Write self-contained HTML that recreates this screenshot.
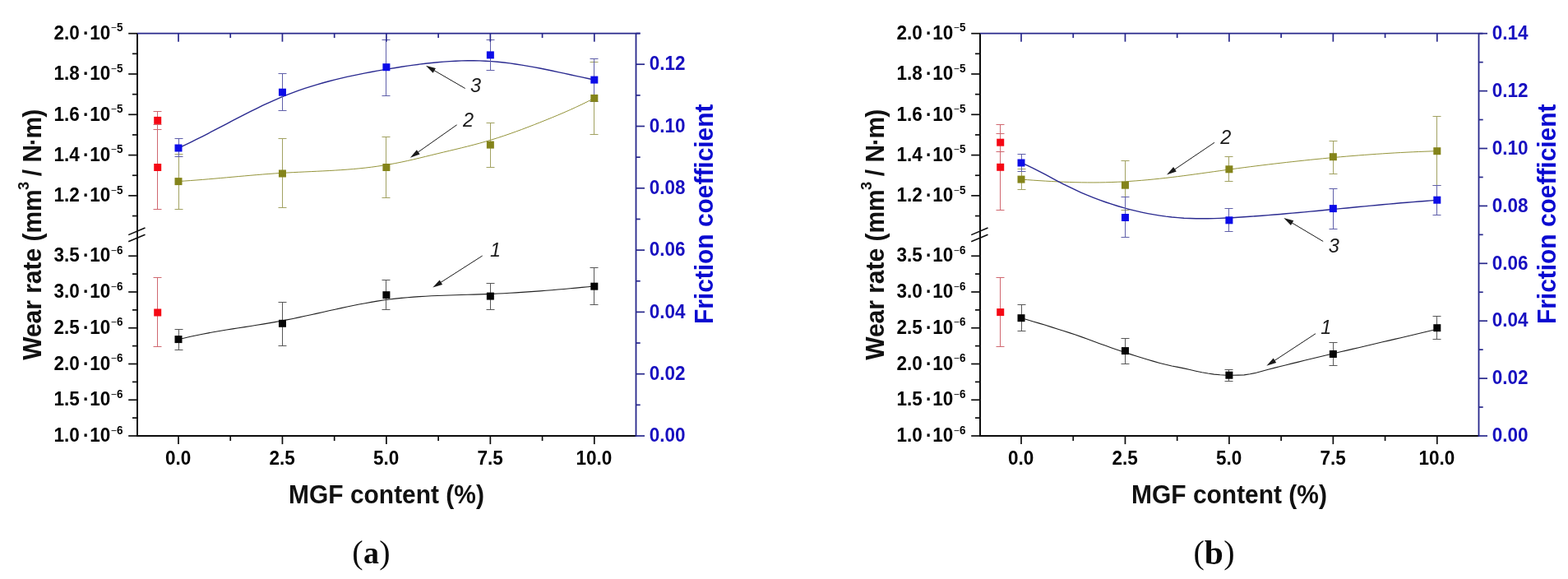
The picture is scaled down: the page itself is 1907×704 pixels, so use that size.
<!DOCTYPE html>
<html lang="en"><head><meta charset="utf-8"><title>Wear rate and friction coefficient vs MGF content</title>
<style>html,body{margin:0;padding:0;background:#fff;}body{width:1907px;height:704px;overflow:hidden;}svg{display:block;}text{white-space:pre;}</style></head><body>
<svg width="1907" height="704" viewBox="0 0 1907 704">
<rect width="1907" height="704" fill="#ffffff"/>
<g>
<path d="M217,220.5 L224.33,220.04 L231.66,219.54 L238.98,218.99 L246.31,218.41 L253.64,217.8 L260.97,217.17 L268.29,216.52 L275.62,215.86 L282.95,215.19 L290.28,214.53 L297.6,213.88 L304.93,213.24 L312.26,212.61 L319.59,212.02 L326.91,211.46 L334.24,210.93 L341.57,210.45 L348.9,210.02 L356.22,209.63 L363.55,209.27 L370.88,208.93 L378.21,208.6 L385.53,208.26 L392.86,207.91 L400.19,207.54 L407.52,207.12 L414.84,206.66 L422.17,206.14 L429.5,205.55 L436.83,204.87 L444.15,204.1 L451.48,203.23 L458.81,202.23 L466.14,201.12 L473.46,199.89 L480.79,198.55 L488.12,197.1 L495.45,195.54 L502.77,193.89 L510.1,192.15 L517.43,190.36 L524.76,188.57 L532.08,186.79 L539.41,185.03 L546.74,183.29 L554.07,181.54 L561.39,179.77 L568.72,177.95 L576.05,176.07 L583.38,174.11 L590.7,172.06 L598.03,169.89 L605.36,167.59 L612.69,165.18 L620.01,162.66 L627.34,160.05 L634.67,157.36 L642,154.59 L649.32,151.75 L656.65,148.86 L663.98,145.93 L671.31,142.95 L678.63,139.91 L685.96,136.79 L693.29,133.57 L700.62,130.24 L707.94,126.78 L715.27,123.18 L722.6,119.41" fill="none" stroke="#94943a" stroke-width="1.0" stroke-linejoin="round"/>
<path d="M217,180 L224.33,176.6 L231.66,173.08 L238.98,169.47 L246.31,165.77 L253.64,162.01 L260.97,158.2 L268.29,154.37 L275.62,150.52 L282.95,146.69 L290.28,142.87 L297.6,139.1 L304.93,135.4 L312.26,131.77 L319.59,128.23 L326.91,124.81 L334.24,121.52 L341.57,118.38 L348.9,115.4 L356.22,112.59 L363.55,109.94 L370.88,107.44 L378.21,105.07 L385.53,102.85 L392.86,100.74 L400.19,98.76 L407.52,96.88 L414.84,95.11 L422.17,93.43 L429.5,91.84 L436.83,90.32 L444.15,88.88 L451.48,87.5 L458.81,86.17 L466.14,84.89 L473.46,83.65 L480.79,82.44 L488.12,81.29 L495.45,80.18 L502.77,79.14 L510.1,78.17 L517.43,77.27 L524.76,76.46 L532.08,75.74 L539.41,75.12 L546.74,74.6 L554.07,74.2 L561.39,73.92 L568.72,73.78 L576.05,73.77 L583.38,73.9 L590.7,74.19 L598.03,74.64 L605.36,75.25 L612.69,76.02 L620.01,76.92 L627.34,77.94 L634.67,79.08 L642,80.32 L649.32,81.64 L656.65,83.05 L663.98,84.51 L671.31,86.03 L678.63,87.58 L685.96,89.16 L693.29,90.75 L700.62,92.35 L707.94,93.93 L715.27,95.48 L722.6,97" fill="none" stroke="#2a2a90" stroke-width="1.4" stroke-linejoin="round"/>
<path d="M217,412.7 L224.33,410.92 L231.66,409.25 L238.98,407.7 L246.31,406.23 L253.64,404.85 L260.97,403.54 L268.29,402.28 L275.62,401.08 L282.95,399.9 L290.28,398.75 L297.6,397.61 L304.93,396.47 L312.26,395.31 L319.59,394.13 L326.91,392.91 L334.24,391.64 L341.57,390.31 L348.9,388.9 L356.22,387.43 L363.55,385.91 L370.88,384.33 L378.21,382.73 L385.53,381.1 L392.86,379.47 L400.19,377.83 L407.52,376.21 L414.84,374.61 L422.17,373.05 L429.5,371.53 L436.83,370.08 L444.15,368.69 L451.48,367.38 L458.81,366.16 L466.14,365.05 L473.46,364.05 L480.79,363.17 L488.12,362.4 L495.45,361.73 L502.77,361.14 L510.1,360.63 L517.43,360.19 L524.76,359.82 L532.08,359.49 L539.41,359.21 L546.74,358.96 L554.07,358.73 L561.39,358.52 L568.72,358.32 L576.05,358.1 L583.38,357.88 L590.7,357.63 L598.03,357.35 L605.36,357.03 L612.69,356.68 L620.01,356.29 L627.34,355.86 L634.67,355.4 L642,354.91 L649.32,354.4 L656.65,353.85 L663.98,353.28 L671.31,352.69 L678.63,352.07 L685.96,351.43 L693.29,350.78 L700.62,350.1 L707.94,349.41 L715.27,348.71 L722.6,347.99" fill="none" stroke="#222222" stroke-width="1.1" stroke-linejoin="round"/>
<line x1="191.5" y1="151.5" x2="191.5" y2="254.5" stroke="#d06870" stroke-width="1.0" />
<line x1="186.5" y1="151.5" x2="196.5" y2="151.5" stroke="#d06870" stroke-width="1.0" />
<line x1="186.5" y1="254.5" x2="196.5" y2="254.5" stroke="#d06870" stroke-width="1.0" />
<line x1="191.5" y1="135.5" x2="191.5" y2="157.5" stroke="#d06870" stroke-width="1.0" />
<line x1="186.5" y1="135.5" x2="196.5" y2="135.5" stroke="#d06870" stroke-width="1.0" />
<line x1="186.5" y1="157.5" x2="196.5" y2="157.5" stroke="#d06870" stroke-width="1.0" />
<line x1="191.5" y1="337.5" x2="191.5" y2="421.5" stroke="#d06870" stroke-width="1.0" />
<line x1="186.5" y1="337.5" x2="196.5" y2="337.5" stroke="#d06870" stroke-width="1.0" />
<line x1="186.5" y1="421.5" x2="196.5" y2="421.5" stroke="#d06870" stroke-width="1.0" />
<line x1="217.5" y1="187.5" x2="217.5" y2="254.5" stroke="#a2a262" stroke-width="1.0" />
<line x1="212.5" y1="187.5" x2="222.5" y2="187.5" stroke="#a2a262" stroke-width="1.0" />
<line x1="212.5" y1="254.5" x2="222.5" y2="254.5" stroke="#a2a262" stroke-width="1.0" />
<line x1="343.5" y1="168.5" x2="343.5" y2="252.5" stroke="#a2a262" stroke-width="1.0" />
<line x1="338.5" y1="168.5" x2="348.5" y2="168.5" stroke="#a2a262" stroke-width="1.0" />
<line x1="338.5" y1="252.5" x2="348.5" y2="252.5" stroke="#a2a262" stroke-width="1.0" />
<line x1="469.5" y1="166.5" x2="469.5" y2="240.5" stroke="#a2a262" stroke-width="1.0" />
<line x1="464.5" y1="166.5" x2="474.5" y2="166.5" stroke="#a2a262" stroke-width="1.0" />
<line x1="464.5" y1="240.5" x2="474.5" y2="240.5" stroke="#a2a262" stroke-width="1.0" />
<line x1="596.5" y1="149.5" x2="596.5" y2="203.5" stroke="#a2a262" stroke-width="1.0" />
<line x1="591.5" y1="149.5" x2="601.5" y2="149.5" stroke="#a2a262" stroke-width="1.0" />
<line x1="591.5" y1="203.5" x2="601.5" y2="203.5" stroke="#a2a262" stroke-width="1.0" />
<line x1="722.5" y1="75.5" x2="722.5" y2="163.5" stroke="#a2a262" stroke-width="1.0" />
<line x1="717.5" y1="75.5" x2="727.5" y2="75.5" stroke="#a2a262" stroke-width="1.0" />
<line x1="717.5" y1="163.5" x2="727.5" y2="163.5" stroke="#a2a262" stroke-width="1.0" />
<line x1="217.5" y1="168.5" x2="217.5" y2="190.5" stroke="#6060aa" stroke-width="1.0" />
<line x1="212.5" y1="168.5" x2="222.5" y2="168.5" stroke="#6060aa" stroke-width="1.0" />
<line x1="212.5" y1="190.5" x2="222.5" y2="190.5" stroke="#6060aa" stroke-width="1.0" />
<line x1="343.5" y1="89.5" x2="343.5" y2="134.5" stroke="#6060aa" stroke-width="1.0" />
<line x1="338.5" y1="89.5" x2="348.5" y2="89.5" stroke="#6060aa" stroke-width="1.0" />
<line x1="338.5" y1="134.5" x2="348.5" y2="134.5" stroke="#6060aa" stroke-width="1.0" />
<line x1="469.5" y1="48.5" x2="469.5" y2="116.5" stroke="#6060aa" stroke-width="1.0" />
<line x1="464.5" y1="48.5" x2="474.5" y2="48.5" stroke="#6060aa" stroke-width="1.0" />
<line x1="464.5" y1="116.5" x2="474.5" y2="116.5" stroke="#6060aa" stroke-width="1.0" />
<line x1="596.5" y1="48.5" x2="596.5" y2="85.5" stroke="#6060aa" stroke-width="1.0" />
<line x1="591.5" y1="48.5" x2="601.5" y2="48.5" stroke="#6060aa" stroke-width="1.0" />
<line x1="591.5" y1="85.5" x2="601.5" y2="85.5" stroke="#6060aa" stroke-width="1.0" />
<line x1="722.5" y1="71.5" x2="722.5" y2="123.5" stroke="#6060aa" stroke-width="1.0" />
<line x1="717.5" y1="71.5" x2="727.5" y2="71.5" stroke="#6060aa" stroke-width="1.0" />
<line x1="717.5" y1="123.5" x2="727.5" y2="123.5" stroke="#6060aa" stroke-width="1.0" />
<line x1="217.5" y1="400.5" x2="217.5" y2="425.5" stroke="#585858" stroke-width="1.0" />
<line x1="212.5" y1="400.5" x2="222.5" y2="400.5" stroke="#585858" stroke-width="1.0" />
<line x1="212.5" y1="425.5" x2="222.5" y2="425.5" stroke="#585858" stroke-width="1.0" />
<line x1="343.5" y1="367.5" x2="343.5" y2="420.5" stroke="#585858" stroke-width="1.0" />
<line x1="338.5" y1="367.5" x2="348.5" y2="367.5" stroke="#585858" stroke-width="1.0" />
<line x1="338.5" y1="420.5" x2="348.5" y2="420.5" stroke="#585858" stroke-width="1.0" />
<line x1="469.5" y1="340.5" x2="469.5" y2="376.5" stroke="#585858" stroke-width="1.0" />
<line x1="464.5" y1="340.5" x2="474.5" y2="340.5" stroke="#585858" stroke-width="1.0" />
<line x1="464.5" y1="376.5" x2="474.5" y2="376.5" stroke="#585858" stroke-width="1.0" />
<line x1="596.5" y1="344.5" x2="596.5" y2="376.5" stroke="#585858" stroke-width="1.0" />
<line x1="591.5" y1="344.5" x2="601.5" y2="344.5" stroke="#585858" stroke-width="1.0" />
<line x1="591.5" y1="376.5" x2="601.5" y2="376.5" stroke="#585858" stroke-width="1.0" />
<line x1="722.5" y1="325.5" x2="722.5" y2="370.5" stroke="#585858" stroke-width="1.0" />
<line x1="717.5" y1="325.5" x2="727.5" y2="325.5" stroke="#585858" stroke-width="1.0" />
<line x1="717.5" y1="370.5" x2="727.5" y2="370.5" stroke="#585858" stroke-width="1.0" />
<rect x="187.21" y="199" width="9.0" height="9.0" fill="#f50814"/>
<rect x="187.21" y="141.9" width="9.0" height="9.0" fill="#f50814"/>
<rect x="187.21" y="375.5" width="9.0" height="9.0" fill="#f50814"/>
<rect x="212.5" y="216.1" width="9.0" height="9.0" fill="#84841a"/>
<rect x="338.95" y="206.5" width="9.0" height="9.0" fill="#84841a"/>
<rect x="465.4" y="199" width="9.0" height="9.0" fill="#84841a"/>
<rect x="591.85" y="171.6" width="9.0" height="9.0" fill="#84841a"/>
<rect x="718.3" y="114.9" width="9.0" height="9.0" fill="#84841a"/>
<rect x="212.5" y="175.5" width="9.0" height="9.0" fill="#0c0ce8"/>
<rect x="338.95" y="107.7" width="9.0" height="9.0" fill="#0c0ce8"/>
<rect x="465.4" y="77.2" width="9.0" height="9.0" fill="#0c0ce8"/>
<rect x="591.85" y="62.4" width="9.0" height="9.0" fill="#0c0ce8"/>
<rect x="718.3" y="92.6" width="9.0" height="9.0" fill="#0c0ce8"/>
<rect x="212.5" y="408.1" width="9.0" height="9.0" fill="#050505"/>
<rect x="338.95" y="388.8" width="9.0" height="9.0" fill="#050505"/>
<rect x="465.4" y="354.2" width="9.0" height="9.0" fill="#050505"/>
<rect x="591.85" y="355.6" width="9.0" height="9.0" fill="#050505"/>
<rect x="718.3" y="343.7" width="9.0" height="9.0" fill="#050505"/>
<line x1="166" y1="530" x2="773.5" y2="530" stroke="#0c0c0c" stroke-width="2.0" />
<line x1="167" y1="40.7" x2="167" y2="530" stroke="#0c0c0c" stroke-width="2.0" />
<line x1="167" y1="40.7" x2="778.5" y2="40.7" stroke="#28288c" stroke-width="1.8" />
<line x1="773.5" y1="40.7" x2="773.5" y2="531" stroke="#28288c" stroke-width="1.8" />
<line x1="156.2" y1="40.7" x2="167" y2="40.7" stroke="#0c0c0c" stroke-width="1.7" />
<line x1="161" y1="65.35" x2="167" y2="65.35" stroke="#0c0c0c" stroke-width="1.7" />
<text transform="translate(149.6,47.9) scale(0.9617,1)" text-anchor="end" font-family='"Liberation Sans", Arial, Helvetica, sans-serif' font-weight="bold" font-style="normal" font-size="23.4" fill="#000">2.0<tspan dx="4.5">·</tspan><tspan dx="0.6">10</tspan><tspan dy="-9.5" dx="0.7" font-size="12.5" font-weight="normal">−</tspan><tspan font-size="14" dx="0.3">5</tspan></text>
<line x1="156.2" y1="90" x2="167" y2="90" stroke="#0c0c0c" stroke-width="1.7" />
<line x1="161" y1="114.65" x2="167" y2="114.65" stroke="#0c0c0c" stroke-width="1.7" />
<text transform="translate(149.6,97.2) scale(0.9617,1)" text-anchor="end" font-family='"Liberation Sans", Arial, Helvetica, sans-serif' font-weight="bold" font-style="normal" font-size="23.4" fill="#000">1.8<tspan dx="4.5">·</tspan><tspan dx="0.6">10</tspan><tspan dy="-9.5" dx="0.7" font-size="12.5" font-weight="normal">−</tspan><tspan font-size="14" dx="0.3">5</tspan></text>
<line x1="156.2" y1="139.3" x2="167" y2="139.3" stroke="#0c0c0c" stroke-width="1.7" />
<line x1="161" y1="163.95" x2="167" y2="163.95" stroke="#0c0c0c" stroke-width="1.7" />
<text transform="translate(149.6,146.5) scale(0.9617,1)" text-anchor="end" font-family='"Liberation Sans", Arial, Helvetica, sans-serif' font-weight="bold" font-style="normal" font-size="23.4" fill="#000">1.6<tspan dx="4.5">·</tspan><tspan dx="0.6">10</tspan><tspan dy="-9.5" dx="0.7" font-size="12.5" font-weight="normal">−</tspan><tspan font-size="14" dx="0.3">5</tspan></text>
<line x1="156.2" y1="188.6" x2="167" y2="188.6" stroke="#0c0c0c" stroke-width="1.7" />
<line x1="161" y1="213.25" x2="167" y2="213.25" stroke="#0c0c0c" stroke-width="1.7" />
<text transform="translate(149.6,195.8) scale(0.9617,1)" text-anchor="end" font-family='"Liberation Sans", Arial, Helvetica, sans-serif' font-weight="bold" font-style="normal" font-size="23.4" fill="#000">1.4<tspan dx="4.5">·</tspan><tspan dx="0.6">10</tspan><tspan dy="-9.5" dx="0.7" font-size="12.5" font-weight="normal">−</tspan><tspan font-size="14" dx="0.3">5</tspan></text>
<line x1="156.2" y1="237.9" x2="167" y2="237.9" stroke="#0c0c0c" stroke-width="1.7" />
<text transform="translate(149.6,245.1) scale(0.9617,1)" text-anchor="end" font-family='"Liberation Sans", Arial, Helvetica, sans-serif' font-weight="bold" font-style="normal" font-size="23.4" fill="#000">1.2<tspan dx="4.5">·</tspan><tspan dx="0.6">10</tspan><tspan dy="-9.5" dx="0.7" font-size="12.5" font-weight="normal">−</tspan><tspan font-size="14" dx="0.3">5</tspan></text>
<line x1="161" y1="262.55" x2="167" y2="262.55" stroke="#0c0c0c" stroke-width="1.7" />
<line x1="156.2" y1="293.8" x2="176.5" y2="285.2" stroke="#0c0c0c" stroke-width="1.5" />
<line x1="156.2" y1="285.6" x2="176.5" y2="277" stroke="#0c0c0c" stroke-width="1.5" />
<line x1="156.2" y1="530" x2="167" y2="530" stroke="#0c0c0c" stroke-width="1.7" />
<line x1="161" y1="508.12" x2="167" y2="508.12" stroke="#0c0c0c" stroke-width="1.7" />
<text transform="translate(149.6,537.2) scale(0.9617,1)" text-anchor="end" font-family='"Liberation Sans", Arial, Helvetica, sans-serif' font-weight="bold" font-style="normal" font-size="23.4" fill="#000">1.0<tspan dx="4.5">·</tspan><tspan dx="0.6">10</tspan><tspan dy="-9.5" dx="0.7" font-size="12.5" font-weight="normal">−</tspan><tspan font-size="14" dx="0.3">6</tspan></text>
<line x1="156.2" y1="486.25" x2="167" y2="486.25" stroke="#0c0c0c" stroke-width="1.7" />
<line x1="161" y1="464.38" x2="167" y2="464.38" stroke="#0c0c0c" stroke-width="1.7" />
<text transform="translate(149.6,493.45) scale(0.9617,1)" text-anchor="end" font-family='"Liberation Sans", Arial, Helvetica, sans-serif' font-weight="bold" font-style="normal" font-size="23.4" fill="#000">1.5<tspan dx="4.5">·</tspan><tspan dx="0.6">10</tspan><tspan dy="-9.5" dx="0.7" font-size="12.5" font-weight="normal">−</tspan><tspan font-size="14" dx="0.3">6</tspan></text>
<line x1="156.2" y1="442.5" x2="167" y2="442.5" stroke="#0c0c0c" stroke-width="1.7" />
<line x1="161" y1="420.62" x2="167" y2="420.62" stroke="#0c0c0c" stroke-width="1.7" />
<text transform="translate(149.6,449.7) scale(0.9617,1)" text-anchor="end" font-family='"Liberation Sans", Arial, Helvetica, sans-serif' font-weight="bold" font-style="normal" font-size="23.4" fill="#000">2.0<tspan dx="4.5">·</tspan><tspan dx="0.6">10</tspan><tspan dy="-9.5" dx="0.7" font-size="12.5" font-weight="normal">−</tspan><tspan font-size="14" dx="0.3">6</tspan></text>
<line x1="156.2" y1="398.75" x2="167" y2="398.75" stroke="#0c0c0c" stroke-width="1.7" />
<line x1="161" y1="376.88" x2="167" y2="376.88" stroke="#0c0c0c" stroke-width="1.7" />
<text transform="translate(149.6,405.95) scale(0.9617,1)" text-anchor="end" font-family='"Liberation Sans", Arial, Helvetica, sans-serif' font-weight="bold" font-style="normal" font-size="23.4" fill="#000">2.5<tspan dx="4.5">·</tspan><tspan dx="0.6">10</tspan><tspan dy="-9.5" dx="0.7" font-size="12.5" font-weight="normal">−</tspan><tspan font-size="14" dx="0.3">6</tspan></text>
<line x1="156.2" y1="355" x2="167" y2="355" stroke="#0c0c0c" stroke-width="1.7" />
<line x1="161" y1="333.12" x2="167" y2="333.12" stroke="#0c0c0c" stroke-width="1.7" />
<text transform="translate(149.6,362.2) scale(0.9617,1)" text-anchor="end" font-family='"Liberation Sans", Arial, Helvetica, sans-serif' font-weight="bold" font-style="normal" font-size="23.4" fill="#000">3.0<tspan dx="4.5">·</tspan><tspan dx="0.6">10</tspan><tspan dy="-9.5" dx="0.7" font-size="12.5" font-weight="normal">−</tspan><tspan font-size="14" dx="0.3">6</tspan></text>
<line x1="156.2" y1="311.25" x2="167" y2="311.25" stroke="#0c0c0c" stroke-width="1.7" />
<text transform="translate(149.6,318.45) scale(0.9617,1)" text-anchor="end" font-family='"Liberation Sans", Arial, Helvetica, sans-serif' font-weight="bold" font-style="normal" font-size="23.4" fill="#000">3.5<tspan dx="4.5">·</tspan><tspan dx="0.6">10</tspan><tspan dy="-9.5" dx="0.7" font-size="12.5" font-weight="normal">−</tspan><tspan font-size="14" dx="0.3">6</tspan></text>
<line x1="217" y1="530" x2="217" y2="540.1" stroke="#0c0c0c" stroke-width="1.7" />
<line x1="217" y1="40.7" x2="217" y2="50.7" stroke="#28288c" stroke-width="1.7" />
<line x1="280.23" y1="530" x2="280.23" y2="536" stroke="#0c0c0c" stroke-width="1.7" />
<line x1="280.23" y1="40.7" x2="280.23" y2="46.1" stroke="#28288c" stroke-width="1.7" />
<text transform="translate(216.7,564.8) scale(0.9617,1)" text-anchor="middle" font-family='"Liberation Sans", Arial, Helvetica, sans-serif' font-weight="bold" font-style="normal" font-size="23.4" fill="#000">0.0</text>
<line x1="343.45" y1="530" x2="343.45" y2="540.1" stroke="#0c0c0c" stroke-width="1.7" />
<line x1="343.45" y1="40.7" x2="343.45" y2="50.7" stroke="#28288c" stroke-width="1.7" />
<line x1="406.68" y1="530" x2="406.68" y2="536" stroke="#0c0c0c" stroke-width="1.7" />
<line x1="406.68" y1="40.7" x2="406.68" y2="46.1" stroke="#28288c" stroke-width="1.7" />
<text transform="translate(343.15,564.8) scale(0.9617,1)" text-anchor="middle" font-family='"Liberation Sans", Arial, Helvetica, sans-serif' font-weight="bold" font-style="normal" font-size="23.4" fill="#000">2.5</text>
<line x1="469.9" y1="530" x2="469.9" y2="540.1" stroke="#0c0c0c" stroke-width="1.7" />
<line x1="469.9" y1="40.7" x2="469.9" y2="50.7" stroke="#28288c" stroke-width="1.7" />
<line x1="533.12" y1="530" x2="533.12" y2="536" stroke="#0c0c0c" stroke-width="1.7" />
<line x1="533.12" y1="40.7" x2="533.12" y2="46.1" stroke="#28288c" stroke-width="1.7" />
<text transform="translate(469.6,564.8) scale(0.9617,1)" text-anchor="middle" font-family='"Liberation Sans", Arial, Helvetica, sans-serif' font-weight="bold" font-style="normal" font-size="23.4" fill="#000">5.0</text>
<line x1="596.35" y1="530" x2="596.35" y2="540.1" stroke="#0c0c0c" stroke-width="1.7" />
<line x1="596.35" y1="40.7" x2="596.35" y2="50.7" stroke="#28288c" stroke-width="1.7" />
<line x1="659.58" y1="530" x2="659.58" y2="536" stroke="#0c0c0c" stroke-width="1.7" />
<line x1="659.58" y1="40.7" x2="659.58" y2="46.1" stroke="#28288c" stroke-width="1.7" />
<text transform="translate(596.05,564.8) scale(0.9617,1)" text-anchor="middle" font-family='"Liberation Sans", Arial, Helvetica, sans-serif' font-weight="bold" font-style="normal" font-size="23.4" fill="#000">7.5</text>
<line x1="722.8" y1="530" x2="722.8" y2="540.1" stroke="#0c0c0c" stroke-width="1.7" />
<line x1="722.8" y1="40.7" x2="722.8" y2="50.7" stroke="#28288c" stroke-width="1.7" />
<text transform="translate(722.5,564.8) scale(0.9617,1)" text-anchor="middle" font-family='"Liberation Sans", Arial, Helvetica, sans-serif' font-weight="bold" font-style="normal" font-size="23.4" fill="#000">10.0</text>
<line x1="773.5" y1="530" x2="784" y2="530" stroke="#28288c" stroke-width="1.7" />
<line x1="773.5" y1="492.35" x2="778.7" y2="492.35" stroke="#28288c" stroke-width="1.7" />
<text transform="translate(789.8,537.2) scale(0.9617,1)" text-anchor="start" font-family='"Liberation Sans", Arial, Helvetica, sans-serif' font-weight="bold" font-style="normal" font-size="23.4" fill="#1810c0">0.00</text>
<line x1="773.5" y1="454.7" x2="784" y2="454.7" stroke="#28288c" stroke-width="1.7" />
<line x1="773.5" y1="417.05" x2="778.7" y2="417.05" stroke="#28288c" stroke-width="1.7" />
<text transform="translate(789.8,461.9) scale(0.9617,1)" text-anchor="start" font-family='"Liberation Sans", Arial, Helvetica, sans-serif' font-weight="bold" font-style="normal" font-size="23.4" fill="#1810c0">0.02</text>
<line x1="773.5" y1="379.4" x2="784" y2="379.4" stroke="#28288c" stroke-width="1.7" />
<line x1="773.5" y1="341.75" x2="778.7" y2="341.75" stroke="#28288c" stroke-width="1.7" />
<text transform="translate(789.8,386.6) scale(0.9617,1)" text-anchor="start" font-family='"Liberation Sans", Arial, Helvetica, sans-serif' font-weight="bold" font-style="normal" font-size="23.4" fill="#1810c0">0.04</text>
<line x1="773.5" y1="304.1" x2="784" y2="304.1" stroke="#28288c" stroke-width="1.7" />
<line x1="773.5" y1="266.45" x2="778.7" y2="266.45" stroke="#28288c" stroke-width="1.7" />
<text transform="translate(789.8,311.3) scale(0.9617,1)" text-anchor="start" font-family='"Liberation Sans", Arial, Helvetica, sans-serif' font-weight="bold" font-style="normal" font-size="23.4" fill="#1810c0">0.06</text>
<line x1="773.5" y1="228.8" x2="784" y2="228.8" stroke="#28288c" stroke-width="1.7" />
<line x1="773.5" y1="191.15" x2="778.7" y2="191.15" stroke="#28288c" stroke-width="1.7" />
<text transform="translate(789.8,236) scale(0.9617,1)" text-anchor="start" font-family='"Liberation Sans", Arial, Helvetica, sans-serif' font-weight="bold" font-style="normal" font-size="23.4" fill="#1810c0">0.08</text>
<line x1="773.5" y1="153.5" x2="784" y2="153.5" stroke="#28288c" stroke-width="1.7" />
<line x1="773.5" y1="115.85" x2="778.7" y2="115.85" stroke="#28288c" stroke-width="1.7" />
<text transform="translate(789.8,160.7) scale(0.9617,1)" text-anchor="start" font-family='"Liberation Sans", Arial, Helvetica, sans-serif' font-weight="bold" font-style="normal" font-size="23.4" fill="#1810c0">0.10</text>
<line x1="773.5" y1="78.2" x2="784" y2="78.2" stroke="#28288c" stroke-width="1.7" />
<line x1="773.5" y1="40.55" x2="778.7" y2="40.55" stroke="#28288c" stroke-width="1.7" />
<text transform="translate(789.8,85.4) scale(0.9617,1)" text-anchor="start" font-family='"Liberation Sans", Arial, Helvetica, sans-serif' font-weight="bold" font-style="normal" font-size="23.4" fill="#1810c0">0.12</text>
<text transform="translate(470,611.6) scale(0.977,1)" text-anchor="middle" font-family='"Liberation Sans", Arial, Helvetica, sans-serif' font-weight="bold" font-style="normal" font-size="30.67" fill="#111">MGF content (%)</text>
<text transform="translate(50.3,437.8) rotate(-90) scale(0.977,1)" text-anchor="start" font-family='"Liberation Sans", Arial, Helvetica, sans-serif' font-weight="bold" font-style="normal" font-size="30.67" fill="#111">Wear rate (mm<tspan dy="-15" dx="-0.8" font-size="18.5">3</tspan><tspan dy="15" dx="-1.5"> / N</tspan><tspan dx="-1.3">·</tspan><tspan dx="-1.3">m</tspan><tspan dx="-1">)</tspan></text>
<text transform="translate(866.8,260.3) rotate(-90) scale(0.9757,1)" text-anchor="middle" font-family='"Liberation Sans", Arial, Helvetica, sans-serif' font-weight="bold" font-style="normal" font-size="30.67" fill="#0a0ad0">Friction coefficient</text>
<line x1="565.7" y1="107.5" x2="526.55" y2="84.81" stroke="#1a1a1a" stroke-width="1.0" />
<polygon points="517.9,79.8 529.91,83 526.65,88.63" fill="#1a1a1a"/>
<text transform="translate(578.5,112.3) scale(0.9617,1)" text-anchor="middle" font-family='"Liberation Sans", Arial, Helvetica, sans-serif' font-weight="normal" font-style="italic" font-size="24.4" fill="#1a1a1a">3</text>
<line x1="555.6" y1="151.8" x2="507.08" y2="185.95" stroke="#1a1a1a" stroke-width="1.0" />
<polygon points="498.9,191.7 506.84,182.14 510.58,187.45" fill="#1a1a1a"/>
<text transform="translate(569.5,154.3) scale(0.9617,1)" text-anchor="middle" font-family='"Liberation Sans", Arial, Helvetica, sans-serif' font-weight="normal" font-style="italic" font-size="24.4" fill="#1a1a1a">2</text>
<line x1="586.7" y1="311" x2="534.73" y2="344.22" stroke="#1a1a1a" stroke-width="1.0" />
<polygon points="526.3,349.6 534.66,340.4 538.16,345.88" fill="#1a1a1a"/>
<text transform="translate(602.6,311.5) scale(0.9617,1)" text-anchor="middle" font-family='"Liberation Sans", Arial, Helvetica, sans-serif' font-weight="normal" font-style="italic" font-size="24.4" fill="#1a1a1a">1</text>
</g>
<g>
<path d="M1242,218.1 L1249.33,218.64 L1256.66,219.16 L1263.98,219.65 L1271.31,220.1 L1278.64,220.52 L1285.97,220.89 L1293.29,221.21 L1300.62,221.47 L1307.95,221.69 L1315.28,221.84 L1322.6,221.92 L1329.93,221.94 L1337.26,221.88 L1344.59,221.75 L1351.91,221.53 L1359.24,221.24 L1366.57,220.86 L1373.9,220.41 L1381.22,219.89 L1388.55,219.31 L1395.88,218.66 L1403.21,217.95 L1410.53,217.19 L1417.86,216.37 L1425.19,215.51 L1432.52,214.6 L1439.84,213.66 L1447.17,212.69 L1454.5,211.7 L1461.83,210.69 L1469.15,209.67 L1476.48,208.65 L1483.81,207.63 L1491.14,206.61 L1498.46,205.62 L1505.79,204.64 L1513.12,203.68 L1520.45,202.73 L1527.77,201.81 L1535.1,200.9 L1542.43,200.01 L1549.76,199.14 L1557.08,198.29 L1564.41,197.45 L1571.74,196.63 L1579.07,195.83 L1586.39,195.05 L1593.72,194.28 L1601.05,193.54 L1608.38,192.82 L1615.7,192.11 L1623.03,191.43 L1630.36,190.77 L1637.69,190.14 L1645.01,189.52 L1652.34,188.93 L1659.67,188.37 L1667,187.83 L1674.32,187.31 L1681.65,186.83 L1688.98,186.37 L1696.31,185.93 L1703.63,185.52 L1710.96,185.15 L1718.29,184.8 L1725.62,184.48 L1732.94,184.19 L1740.27,183.93 L1747.6,183.7" fill="none" stroke="#94943a" stroke-width="1.0" stroke-linejoin="round"/>
<path d="M1242,197.79 L1249.33,201.06 L1256.66,204.6 L1263.98,208.34 L1271.31,212.21 L1278.64,216.13 L1285.97,220.02 L1293.29,223.81 L1300.62,227.47 L1307.95,230.98 L1315.28,234.3 L1322.6,237.44 L1329.93,240.39 L1337.26,243.16 L1344.59,245.77 L1351.91,248.21 L1359.24,250.5 L1366.57,252.63 L1373.9,254.61 L1381.22,256.43 L1388.55,258.09 L1395.88,259.59 L1403.21,260.93 L1410.53,262.11 L1417.86,263.13 L1425.19,263.98 L1432.52,264.66 L1439.84,265.18 L1447.17,265.53 L1454.5,265.74 L1461.83,265.82 L1469.15,265.77 L1476.48,265.62 L1483.81,265.38 L1491.14,265.06 L1498.46,264.68 L1505.79,264.24 L1513.12,263.77 L1520.45,263.27 L1527.77,262.75 L1535.1,262.2 L1542.43,261.63 L1549.76,261.04 L1557.08,260.43 L1564.41,259.8 L1571.74,259.16 L1579.07,258.5 L1586.39,257.83 L1593.72,257.15 L1601.05,256.46 L1608.38,255.76 L1615.7,255.06 L1623.03,254.35 L1630.36,253.65 L1637.69,252.94 L1645.01,252.23 L1652.34,251.53 L1659.67,250.83 L1667,250.13 L1674.32,249.45 L1681.65,248.77 L1688.98,248.11 L1696.31,247.45 L1703.63,246.82 L1710.96,246.2 L1718.29,245.59 L1725.62,245.01 L1732.94,244.45 L1740.27,243.91 L1747.6,243.4" fill="none" stroke="#2a2a90" stroke-width="1.4" stroke-linejoin="round"/>
<path d="M1242,386.7 L1249.33,388.8 L1256.66,390.94 L1263.98,393.12 L1271.31,395.34 L1278.64,397.6 L1285.97,399.9 L1293.29,402.24 L1300.62,404.62 L1307.95,407.06 L1315.28,409.61 L1322.6,412.25 L1329.93,414.94 L1337.26,417.65 L1344.59,420.34 L1351.91,422.99 L1359.24,425.55 L1366.57,428.01 L1373.9,430.37 L1381.22,432.71 L1388.55,435.01 L1395.88,437.25 L1403.21,439.4 L1410.53,441.42 L1417.86,443.29 L1425.19,444.94 L1432.52,446.4 L1439.84,447.87 L1447.17,449.52 L1454.5,451.23 L1461.83,452.79 L1469.15,454.06 L1476.48,455.16 L1483.81,455.82 L1491.14,456.22 L1498.46,456.28 L1505.79,456.13 L1513.12,455.84 L1520.45,454.81 L1527.77,453.28 L1535.1,451.3 L1542.43,449.25 L1549.76,447.36 L1557.08,445.52 L1564.41,443.7 L1571.74,441.9 L1579.07,440.11 L1586.39,438.33 L1593.72,436.56 L1601.05,434.8 L1608.38,433.05 L1615.7,431.31 L1623.03,429.57 L1630.36,427.83 L1637.69,426.11 L1645.01,424.39 L1652.34,422.68 L1659.67,420.96 L1667,419.25 L1674.32,417.53 L1681.65,415.82 L1688.98,414.1 L1696.31,412.38 L1703.63,410.67 L1710.96,408.95 L1718.29,407.23 L1725.62,405.5 L1732.94,403.77 L1740.27,402.04 L1747.6,400.3" fill="none" stroke="#222222" stroke-width="1.1" stroke-linejoin="round"/>
<line x1="1216.5" y1="151.5" x2="1216.5" y2="255.5" stroke="#d06870" stroke-width="1.0" />
<line x1="1211.5" y1="151.5" x2="1221.5" y2="151.5" stroke="#d06870" stroke-width="1.0" />
<line x1="1211.5" y1="255.5" x2="1221.5" y2="255.5" stroke="#d06870" stroke-width="1.0" />
<line x1="1216.5" y1="162.5" x2="1216.5" y2="184.5" stroke="#d06870" stroke-width="1.0" />
<line x1="1211.5" y1="162.5" x2="1221.5" y2="162.5" stroke="#d06870" stroke-width="1.0" />
<line x1="1211.5" y1="184.5" x2="1221.5" y2="184.5" stroke="#d06870" stroke-width="1.0" />
<line x1="1216.5" y1="337.5" x2="1216.5" y2="421.5" stroke="#d06870" stroke-width="1.0" />
<line x1="1211.5" y1="337.5" x2="1221.5" y2="337.5" stroke="#d06870" stroke-width="1.0" />
<line x1="1211.5" y1="421.5" x2="1221.5" y2="421.5" stroke="#d06870" stroke-width="1.0" />
<line x1="1242.5" y1="205.5" x2="1242.5" y2="230.5" stroke="#a2a262" stroke-width="1.0" />
<line x1="1237.5" y1="205.5" x2="1247.5" y2="205.5" stroke="#a2a262" stroke-width="1.0" />
<line x1="1237.5" y1="230.5" x2="1247.5" y2="230.5" stroke="#a2a262" stroke-width="1.0" />
<line x1="1368.5" y1="195.5" x2="1368.5" y2="255.5" stroke="#a2a262" stroke-width="1.0" />
<line x1="1363.5" y1="195.5" x2="1373.5" y2="195.5" stroke="#a2a262" stroke-width="1.0" />
<line x1="1363.5" y1="255.5" x2="1373.5" y2="255.5" stroke="#a2a262" stroke-width="1.0" />
<line x1="1494.5" y1="190.5" x2="1494.5" y2="220.5" stroke="#a2a262" stroke-width="1.0" />
<line x1="1489.5" y1="190.5" x2="1499.5" y2="190.5" stroke="#a2a262" stroke-width="1.0" />
<line x1="1489.5" y1="220.5" x2="1499.5" y2="220.5" stroke="#a2a262" stroke-width="1.0" />
<line x1="1621.5" y1="171.5" x2="1621.5" y2="211.5" stroke="#a2a262" stroke-width="1.0" />
<line x1="1616.5" y1="171.5" x2="1626.5" y2="171.5" stroke="#a2a262" stroke-width="1.0" />
<line x1="1616.5" y1="211.5" x2="1626.5" y2="211.5" stroke="#a2a262" stroke-width="1.0" />
<line x1="1747.5" y1="141.5" x2="1747.5" y2="225.5" stroke="#a2a262" stroke-width="1.0" />
<line x1="1742.5" y1="141.5" x2="1752.5" y2="141.5" stroke="#a2a262" stroke-width="1.0" />
<line x1="1742.5" y1="225.5" x2="1752.5" y2="225.5" stroke="#a2a262" stroke-width="1.0" />
<line x1="1242.5" y1="187.5" x2="1242.5" y2="208.5" stroke="#6060aa" stroke-width="1.0" />
<line x1="1237.5" y1="187.5" x2="1247.5" y2="187.5" stroke="#6060aa" stroke-width="1.0" />
<line x1="1237.5" y1="208.5" x2="1247.5" y2="208.5" stroke="#6060aa" stroke-width="1.0" />
<line x1="1368.5" y1="239.5" x2="1368.5" y2="288.5" stroke="#6060aa" stroke-width="1.0" />
<line x1="1363.5" y1="239.5" x2="1373.5" y2="239.5" stroke="#6060aa" stroke-width="1.0" />
<line x1="1363.5" y1="288.5" x2="1373.5" y2="288.5" stroke="#6060aa" stroke-width="1.0" />
<line x1="1494.5" y1="253.5" x2="1494.5" y2="281.5" stroke="#6060aa" stroke-width="1.0" />
<line x1="1489.5" y1="253.5" x2="1499.5" y2="253.5" stroke="#6060aa" stroke-width="1.0" />
<line x1="1489.5" y1="281.5" x2="1499.5" y2="281.5" stroke="#6060aa" stroke-width="1.0" />
<line x1="1621.5" y1="229.5" x2="1621.5" y2="278.5" stroke="#6060aa" stroke-width="1.0" />
<line x1="1616.5" y1="229.5" x2="1626.5" y2="229.5" stroke="#6060aa" stroke-width="1.0" />
<line x1="1616.5" y1="278.5" x2="1626.5" y2="278.5" stroke="#6060aa" stroke-width="1.0" />
<line x1="1747.5" y1="225.5" x2="1747.5" y2="261.5" stroke="#6060aa" stroke-width="1.0" />
<line x1="1742.5" y1="225.5" x2="1752.5" y2="225.5" stroke="#6060aa" stroke-width="1.0" />
<line x1="1742.5" y1="261.5" x2="1752.5" y2="261.5" stroke="#6060aa" stroke-width="1.0" />
<line x1="1242.5" y1="370.5" x2="1242.5" y2="402.5" stroke="#585858" stroke-width="1.0" />
<line x1="1237.5" y1="370.5" x2="1247.5" y2="370.5" stroke="#585858" stroke-width="1.0" />
<line x1="1237.5" y1="402.5" x2="1247.5" y2="402.5" stroke="#585858" stroke-width="1.0" />
<line x1="1368.5" y1="411.5" x2="1368.5" y2="442.5" stroke="#585858" stroke-width="1.0" />
<line x1="1363.5" y1="411.5" x2="1373.5" y2="411.5" stroke="#585858" stroke-width="1.0" />
<line x1="1363.5" y1="442.5" x2="1373.5" y2="442.5" stroke="#585858" stroke-width="1.0" />
<line x1="1494.5" y1="449.5" x2="1494.5" y2="463.5" stroke="#585858" stroke-width="1.0" />
<line x1="1489.5" y1="449.5" x2="1499.5" y2="449.5" stroke="#585858" stroke-width="1.0" />
<line x1="1489.5" y1="463.5" x2="1499.5" y2="463.5" stroke="#585858" stroke-width="1.0" />
<line x1="1621.5" y1="416.5" x2="1621.5" y2="444.5" stroke="#585858" stroke-width="1.0" />
<line x1="1616.5" y1="416.5" x2="1626.5" y2="416.5" stroke="#585858" stroke-width="1.0" />
<line x1="1616.5" y1="444.5" x2="1626.5" y2="444.5" stroke="#585858" stroke-width="1.0" />
<line x1="1747.5" y1="384.5" x2="1747.5" y2="412.5" stroke="#585858" stroke-width="1.0" />
<line x1="1742.5" y1="384.5" x2="1752.5" y2="384.5" stroke="#585858" stroke-width="1.0" />
<line x1="1742.5" y1="412.5" x2="1752.5" y2="412.5" stroke="#585858" stroke-width="1.0" />
<rect x="1212.21" y="198.8" width="9.0" height="9.0" fill="#f50814"/>
<rect x="1212.21" y="168.7" width="9.0" height="9.0" fill="#f50814"/>
<rect x="1212.21" y="375.1" width="9.0" height="9.0" fill="#f50814"/>
<rect x="1237.5" y="213.6" width="9.0" height="9.0" fill="#84841a"/>
<rect x="1363.95" y="220.7" width="9.0" height="9.0" fill="#84841a"/>
<rect x="1490.4" y="201.3" width="9.0" height="9.0" fill="#84841a"/>
<rect x="1616.85" y="186.2" width="9.0" height="9.0" fill="#84841a"/>
<rect x="1743.3" y="179.2" width="9.0" height="9.0" fill="#84841a"/>
<rect x="1237.5" y="193.5" width="9.0" height="9.0" fill="#0c0ce8"/>
<rect x="1363.95" y="260" width="9.0" height="9.0" fill="#0c0ce8"/>
<rect x="1490.4" y="263.3" width="9.0" height="9.0" fill="#0c0ce8"/>
<rect x="1616.85" y="249.1" width="9.0" height="9.0" fill="#0c0ce8"/>
<rect x="1743.3" y="238.7" width="9.0" height="9.0" fill="#0c0ce8"/>
<rect x="1237.5" y="382.2" width="9.0" height="9.0" fill="#050505"/>
<rect x="1363.95" y="422.1" width="9.0" height="9.0" fill="#050505"/>
<rect x="1490.4" y="451.7" width="9.0" height="9.0" fill="#050505"/>
<rect x="1616.85" y="426" width="9.0" height="9.0" fill="#050505"/>
<rect x="1743.3" y="394.2" width="9.0" height="9.0" fill="#050505"/>
<line x1="1191" y1="530" x2="1798.5" y2="530" stroke="#0c0c0c" stroke-width="2.0" />
<line x1="1192" y1="40.7" x2="1192" y2="530" stroke="#0c0c0c" stroke-width="2.0" />
<line x1="1192" y1="40.7" x2="1803.5" y2="40.7" stroke="#28288c" stroke-width="1.8" />
<line x1="1798.5" y1="40.7" x2="1798.5" y2="531" stroke="#28288c" stroke-width="1.8" />
<line x1="1181.2" y1="40.7" x2="1192" y2="40.7" stroke="#0c0c0c" stroke-width="1.7" />
<line x1="1186" y1="65.35" x2="1192" y2="65.35" stroke="#0c0c0c" stroke-width="1.7" />
<text transform="translate(1174.6,47.9) scale(0.9617,1)" text-anchor="end" font-family='"Liberation Sans", Arial, Helvetica, sans-serif' font-weight="bold" font-style="normal" font-size="23.4" fill="#000">2.0<tspan dx="4.5">·</tspan><tspan dx="0.6">10</tspan><tspan dy="-9.5" dx="0.7" font-size="12.5" font-weight="normal">−</tspan><tspan font-size="14" dx="0.3">5</tspan></text>
<line x1="1181.2" y1="90" x2="1192" y2="90" stroke="#0c0c0c" stroke-width="1.7" />
<line x1="1186" y1="114.65" x2="1192" y2="114.65" stroke="#0c0c0c" stroke-width="1.7" />
<text transform="translate(1174.6,97.2) scale(0.9617,1)" text-anchor="end" font-family='"Liberation Sans", Arial, Helvetica, sans-serif' font-weight="bold" font-style="normal" font-size="23.4" fill="#000">1.8<tspan dx="4.5">·</tspan><tspan dx="0.6">10</tspan><tspan dy="-9.5" dx="0.7" font-size="12.5" font-weight="normal">−</tspan><tspan font-size="14" dx="0.3">5</tspan></text>
<line x1="1181.2" y1="139.3" x2="1192" y2="139.3" stroke="#0c0c0c" stroke-width="1.7" />
<line x1="1186" y1="163.95" x2="1192" y2="163.95" stroke="#0c0c0c" stroke-width="1.7" />
<text transform="translate(1174.6,146.5) scale(0.9617,1)" text-anchor="end" font-family='"Liberation Sans", Arial, Helvetica, sans-serif' font-weight="bold" font-style="normal" font-size="23.4" fill="#000">1.6<tspan dx="4.5">·</tspan><tspan dx="0.6">10</tspan><tspan dy="-9.5" dx="0.7" font-size="12.5" font-weight="normal">−</tspan><tspan font-size="14" dx="0.3">5</tspan></text>
<line x1="1181.2" y1="188.6" x2="1192" y2="188.6" stroke="#0c0c0c" stroke-width="1.7" />
<line x1="1186" y1="213.25" x2="1192" y2="213.25" stroke="#0c0c0c" stroke-width="1.7" />
<text transform="translate(1174.6,195.8) scale(0.9617,1)" text-anchor="end" font-family='"Liberation Sans", Arial, Helvetica, sans-serif' font-weight="bold" font-style="normal" font-size="23.4" fill="#000">1.4<tspan dx="4.5">·</tspan><tspan dx="0.6">10</tspan><tspan dy="-9.5" dx="0.7" font-size="12.5" font-weight="normal">−</tspan><tspan font-size="14" dx="0.3">5</tspan></text>
<line x1="1181.2" y1="237.9" x2="1192" y2="237.9" stroke="#0c0c0c" stroke-width="1.7" />
<text transform="translate(1174.6,245.1) scale(0.9617,1)" text-anchor="end" font-family='"Liberation Sans", Arial, Helvetica, sans-serif' font-weight="bold" font-style="normal" font-size="23.4" fill="#000">1.2<tspan dx="4.5">·</tspan><tspan dx="0.6">10</tspan><tspan dy="-9.5" dx="0.7" font-size="12.5" font-weight="normal">−</tspan><tspan font-size="14" dx="0.3">5</tspan></text>
<line x1="1186" y1="262.55" x2="1192" y2="262.55" stroke="#0c0c0c" stroke-width="1.7" />
<line x1="1181.2" y1="293.8" x2="1201.5" y2="285.2" stroke="#0c0c0c" stroke-width="1.5" />
<line x1="1181.2" y1="285.6" x2="1201.5" y2="277" stroke="#0c0c0c" stroke-width="1.5" />
<line x1="1181.2" y1="530" x2="1192" y2="530" stroke="#0c0c0c" stroke-width="1.7" />
<line x1="1186" y1="508.12" x2="1192" y2="508.12" stroke="#0c0c0c" stroke-width="1.7" />
<text transform="translate(1174.6,537.2) scale(0.9617,1)" text-anchor="end" font-family='"Liberation Sans", Arial, Helvetica, sans-serif' font-weight="bold" font-style="normal" font-size="23.4" fill="#000">1.0<tspan dx="4.5">·</tspan><tspan dx="0.6">10</tspan><tspan dy="-9.5" dx="0.7" font-size="12.5" font-weight="normal">−</tspan><tspan font-size="14" dx="0.3">6</tspan></text>
<line x1="1181.2" y1="486.25" x2="1192" y2="486.25" stroke="#0c0c0c" stroke-width="1.7" />
<line x1="1186" y1="464.38" x2="1192" y2="464.38" stroke="#0c0c0c" stroke-width="1.7" />
<text transform="translate(1174.6,493.45) scale(0.9617,1)" text-anchor="end" font-family='"Liberation Sans", Arial, Helvetica, sans-serif' font-weight="bold" font-style="normal" font-size="23.4" fill="#000">1.5<tspan dx="4.5">·</tspan><tspan dx="0.6">10</tspan><tspan dy="-9.5" dx="0.7" font-size="12.5" font-weight="normal">−</tspan><tspan font-size="14" dx="0.3">6</tspan></text>
<line x1="1181.2" y1="442.5" x2="1192" y2="442.5" stroke="#0c0c0c" stroke-width="1.7" />
<line x1="1186" y1="420.62" x2="1192" y2="420.62" stroke="#0c0c0c" stroke-width="1.7" />
<text transform="translate(1174.6,449.7) scale(0.9617,1)" text-anchor="end" font-family='"Liberation Sans", Arial, Helvetica, sans-serif' font-weight="bold" font-style="normal" font-size="23.4" fill="#000">2.0<tspan dx="4.5">·</tspan><tspan dx="0.6">10</tspan><tspan dy="-9.5" dx="0.7" font-size="12.5" font-weight="normal">−</tspan><tspan font-size="14" dx="0.3">6</tspan></text>
<line x1="1181.2" y1="398.75" x2="1192" y2="398.75" stroke="#0c0c0c" stroke-width="1.7" />
<line x1="1186" y1="376.88" x2="1192" y2="376.88" stroke="#0c0c0c" stroke-width="1.7" />
<text transform="translate(1174.6,405.95) scale(0.9617,1)" text-anchor="end" font-family='"Liberation Sans", Arial, Helvetica, sans-serif' font-weight="bold" font-style="normal" font-size="23.4" fill="#000">2.5<tspan dx="4.5">·</tspan><tspan dx="0.6">10</tspan><tspan dy="-9.5" dx="0.7" font-size="12.5" font-weight="normal">−</tspan><tspan font-size="14" dx="0.3">6</tspan></text>
<line x1="1181.2" y1="355" x2="1192" y2="355" stroke="#0c0c0c" stroke-width="1.7" />
<line x1="1186" y1="333.12" x2="1192" y2="333.12" stroke="#0c0c0c" stroke-width="1.7" />
<text transform="translate(1174.6,362.2) scale(0.9617,1)" text-anchor="end" font-family='"Liberation Sans", Arial, Helvetica, sans-serif' font-weight="bold" font-style="normal" font-size="23.4" fill="#000">3.0<tspan dx="4.5">·</tspan><tspan dx="0.6">10</tspan><tspan dy="-9.5" dx="0.7" font-size="12.5" font-weight="normal">−</tspan><tspan font-size="14" dx="0.3">6</tspan></text>
<line x1="1181.2" y1="311.25" x2="1192" y2="311.25" stroke="#0c0c0c" stroke-width="1.7" />
<text transform="translate(1174.6,318.45) scale(0.9617,1)" text-anchor="end" font-family='"Liberation Sans", Arial, Helvetica, sans-serif' font-weight="bold" font-style="normal" font-size="23.4" fill="#000">3.5<tspan dx="4.5">·</tspan><tspan dx="0.6">10</tspan><tspan dy="-9.5" dx="0.7" font-size="12.5" font-weight="normal">−</tspan><tspan font-size="14" dx="0.3">6</tspan></text>
<line x1="1242" y1="530" x2="1242" y2="540.1" stroke="#0c0c0c" stroke-width="1.7" />
<line x1="1242" y1="40.7" x2="1242" y2="50.7" stroke="#28288c" stroke-width="1.7" />
<line x1="1305.22" y1="530" x2="1305.22" y2="536" stroke="#0c0c0c" stroke-width="1.7" />
<line x1="1305.22" y1="40.7" x2="1305.22" y2="46.1" stroke="#28288c" stroke-width="1.7" />
<text transform="translate(1241.7,564.8) scale(0.9617,1)" text-anchor="middle" font-family='"Liberation Sans", Arial, Helvetica, sans-serif' font-weight="bold" font-style="normal" font-size="23.4" fill="#000">0.0</text>
<line x1="1368.45" y1="530" x2="1368.45" y2="540.1" stroke="#0c0c0c" stroke-width="1.7" />
<line x1="1368.45" y1="40.7" x2="1368.45" y2="50.7" stroke="#28288c" stroke-width="1.7" />
<line x1="1431.67" y1="530" x2="1431.67" y2="536" stroke="#0c0c0c" stroke-width="1.7" />
<line x1="1431.67" y1="40.7" x2="1431.67" y2="46.1" stroke="#28288c" stroke-width="1.7" />
<text transform="translate(1368.15,564.8) scale(0.9617,1)" text-anchor="middle" font-family='"Liberation Sans", Arial, Helvetica, sans-serif' font-weight="bold" font-style="normal" font-size="23.4" fill="#000">2.5</text>
<line x1="1494.9" y1="530" x2="1494.9" y2="540.1" stroke="#0c0c0c" stroke-width="1.7" />
<line x1="1494.9" y1="40.7" x2="1494.9" y2="50.7" stroke="#28288c" stroke-width="1.7" />
<line x1="1558.12" y1="530" x2="1558.12" y2="536" stroke="#0c0c0c" stroke-width="1.7" />
<line x1="1558.12" y1="40.7" x2="1558.12" y2="46.1" stroke="#28288c" stroke-width="1.7" />
<text transform="translate(1494.6,564.8) scale(0.9617,1)" text-anchor="middle" font-family='"Liberation Sans", Arial, Helvetica, sans-serif' font-weight="bold" font-style="normal" font-size="23.4" fill="#000">5.0</text>
<line x1="1621.35" y1="530" x2="1621.35" y2="540.1" stroke="#0c0c0c" stroke-width="1.7" />
<line x1="1621.35" y1="40.7" x2="1621.35" y2="50.7" stroke="#28288c" stroke-width="1.7" />
<line x1="1684.57" y1="530" x2="1684.57" y2="536" stroke="#0c0c0c" stroke-width="1.7" />
<line x1="1684.57" y1="40.7" x2="1684.57" y2="46.1" stroke="#28288c" stroke-width="1.7" />
<text transform="translate(1621.05,564.8) scale(0.9617,1)" text-anchor="middle" font-family='"Liberation Sans", Arial, Helvetica, sans-serif' font-weight="bold" font-style="normal" font-size="23.4" fill="#000">7.5</text>
<line x1="1747.8" y1="530" x2="1747.8" y2="540.1" stroke="#0c0c0c" stroke-width="1.7" />
<line x1="1747.8" y1="40.7" x2="1747.8" y2="50.7" stroke="#28288c" stroke-width="1.7" />
<text transform="translate(1747.5,564.8) scale(0.9617,1)" text-anchor="middle" font-family='"Liberation Sans", Arial, Helvetica, sans-serif' font-weight="bold" font-style="normal" font-size="23.4" fill="#000">10.0</text>
<line x1="1798.5" y1="530" x2="1809" y2="530" stroke="#28288c" stroke-width="1.7" />
<line x1="1798.5" y1="495.05" x2="1803.7" y2="495.05" stroke="#28288c" stroke-width="1.7" />
<text transform="translate(1814.8,537.2) scale(0.9617,1)" text-anchor="start" font-family='"Liberation Sans", Arial, Helvetica, sans-serif' font-weight="bold" font-style="normal" font-size="23.4" fill="#1810c0">0.00</text>
<line x1="1798.5" y1="460.1" x2="1809" y2="460.1" stroke="#28288c" stroke-width="1.7" />
<line x1="1798.5" y1="425.15" x2="1803.7" y2="425.15" stroke="#28288c" stroke-width="1.7" />
<text transform="translate(1814.8,467.3) scale(0.9617,1)" text-anchor="start" font-family='"Liberation Sans", Arial, Helvetica, sans-serif' font-weight="bold" font-style="normal" font-size="23.4" fill="#1810c0">0.02</text>
<line x1="1798.5" y1="390.2" x2="1809" y2="390.2" stroke="#28288c" stroke-width="1.7" />
<line x1="1798.5" y1="355.25" x2="1803.7" y2="355.25" stroke="#28288c" stroke-width="1.7" />
<text transform="translate(1814.8,397.4) scale(0.9617,1)" text-anchor="start" font-family='"Liberation Sans", Arial, Helvetica, sans-serif' font-weight="bold" font-style="normal" font-size="23.4" fill="#1810c0">0.04</text>
<line x1="1798.5" y1="320.3" x2="1809" y2="320.3" stroke="#28288c" stroke-width="1.7" />
<line x1="1798.5" y1="285.35" x2="1803.7" y2="285.35" stroke="#28288c" stroke-width="1.7" />
<text transform="translate(1814.8,327.5) scale(0.9617,1)" text-anchor="start" font-family='"Liberation Sans", Arial, Helvetica, sans-serif' font-weight="bold" font-style="normal" font-size="23.4" fill="#1810c0">0.06</text>
<line x1="1798.5" y1="250.4" x2="1809" y2="250.4" stroke="#28288c" stroke-width="1.7" />
<line x1="1798.5" y1="215.45" x2="1803.7" y2="215.45" stroke="#28288c" stroke-width="1.7" />
<text transform="translate(1814.8,257.6) scale(0.9617,1)" text-anchor="start" font-family='"Liberation Sans", Arial, Helvetica, sans-serif' font-weight="bold" font-style="normal" font-size="23.4" fill="#1810c0">0.08</text>
<line x1="1798.5" y1="180.5" x2="1809" y2="180.5" stroke="#28288c" stroke-width="1.7" />
<line x1="1798.5" y1="145.55" x2="1803.7" y2="145.55" stroke="#28288c" stroke-width="1.7" />
<text transform="translate(1814.8,187.7) scale(0.9617,1)" text-anchor="start" font-family='"Liberation Sans", Arial, Helvetica, sans-serif' font-weight="bold" font-style="normal" font-size="23.4" fill="#1810c0">0.10</text>
<line x1="1798.5" y1="110.6" x2="1809" y2="110.6" stroke="#28288c" stroke-width="1.7" />
<line x1="1798.5" y1="75.65" x2="1803.7" y2="75.65" stroke="#28288c" stroke-width="1.7" />
<text transform="translate(1814.8,117.8) scale(0.9617,1)" text-anchor="start" font-family='"Liberation Sans", Arial, Helvetica, sans-serif' font-weight="bold" font-style="normal" font-size="23.4" fill="#1810c0">0.12</text>
<line x1="1798.5" y1="40.7" x2="1809" y2="40.7" stroke="#28288c" stroke-width="1.7" />
<text transform="translate(1814.8,47.9) scale(0.9617,1)" text-anchor="start" font-family='"Liberation Sans", Arial, Helvetica, sans-serif' font-weight="bold" font-style="normal" font-size="23.4" fill="#1810c0">0.14</text>
<text transform="translate(1495,611.6) scale(0.977,1)" text-anchor="middle" font-family='"Liberation Sans", Arial, Helvetica, sans-serif' font-weight="bold" font-style="normal" font-size="30.67" fill="#111">MGF content (%)</text>
<text transform="translate(1075.3,437.8) rotate(-90) scale(0.977,1)" text-anchor="start" font-family='"Liberation Sans", Arial, Helvetica, sans-serif' font-weight="bold" font-style="normal" font-size="30.67" fill="#111">Wear rate (mm<tspan dy="-15" dx="-0.8" font-size="18.5">3</tspan><tspan dy="15" dx="-1.5"> / N</tspan><tspan dx="-1.3">·</tspan><tspan dx="-1.3">m</tspan><tspan dx="-1">)</tspan></text>
<text transform="translate(1891.8,260.3) rotate(-90) scale(0.9757,1)" text-anchor="middle" font-family='"Liberation Sans", Arial, Helvetica, sans-serif' font-weight="bold" font-style="normal" font-size="30.67" fill="#0a0ad0">Friction coefficient</text>
<line x1="1477" y1="173.3" x2="1427.29" y2="206.9" stroke="#1a1a1a" stroke-width="1.0" />
<polygon points="1419,212.5 1427.12,203.09 1430.76,208.47" fill="#1a1a1a"/>
<text transform="translate(1490.7,174.5) scale(0.9617,1)" text-anchor="middle" font-family='"Liberation Sans", Arial, Helvetica, sans-serif' font-weight="normal" font-style="italic" font-size="24.4" fill="#1a1a1a">2</text>
<line x1="1609.2" y1="293.5" x2="1569.89" y2="270.11" stroke="#1a1a1a" stroke-width="1.0" />
<polygon points="1561.3,265 1573.27,268.34 1569.95,273.93" fill="#1a1a1a"/>
<text transform="translate(1622.2,307.2) scale(0.9617,1)" text-anchor="middle" font-family='"Liberation Sans", Arial, Helvetica, sans-serif' font-weight="normal" font-style="italic" font-size="24.4" fill="#1a1a1a">3</text>
<line x1="1600" y1="405.7" x2="1548.76" y2="439.31" stroke="#1a1a1a" stroke-width="1.0" />
<polygon points="1540.4,444.8 1548.65,435.5 1552.22,440.94" fill="#1a1a1a"/>
<text transform="translate(1612.9,406.2) scale(0.9617,1)" text-anchor="middle" font-family='"Liberation Sans", Arial, Helvetica, sans-serif' font-weight="normal" font-style="italic" font-size="24.4" fill="#1a1a1a">1</text>
</g>
<text y="685.4" font-family='"Liberation Serif", "DejaVu Serif", serif' font-size="40" fill="#0a0a0a"><tspan x="428.3">(</tspan><tspan x="441.9" dy="-0.5" font-size="38" font-weight="bold">a</tspan><tspan x="461.3" dy="0.5">)</tspan></text>
<text y="685.4" font-family='"Liberation Serif", "DejaVu Serif", serif' font-size="40" fill="#0a0a0a"><tspan x="1451.5">(</tspan><tspan x="1464.8" dy="0.6" font-size="41.5" font-weight="bold">b</tspan><tspan x="1488.25" dy="-0.6">)</tspan></text>
</svg></body></html>
